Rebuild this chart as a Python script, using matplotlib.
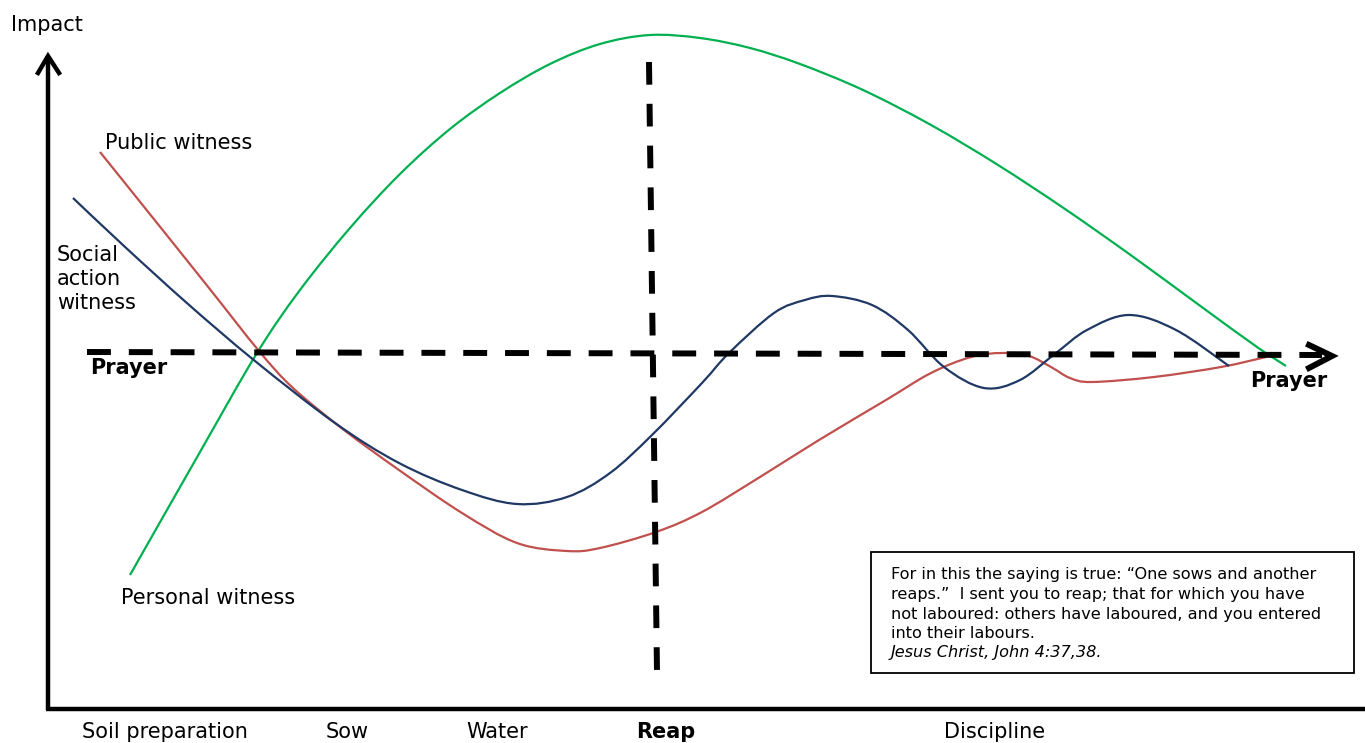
import matplotlib.pyplot as plt
from matplotlib.patches import Rectangle, PathPatch
from matplotlib.path import Path

plt.rcParams['font.family'] = ['DejaVu Sans']

personal_x = [130, 200, 257, 300, 350, 400, 450, 500, 550, 600, 650, 700, 750, 800,
              863, 931, 998, 1065, 1132, 1199, 1257, 1286]
personal_y = [575, 452, 353, 290, 228, 174, 129, 93, 64, 44, 35, 38, 48, 64,
              90, 125, 165, 209, 256, 305, 347, 366]

social_x = [73, 124, 188, 255, 335, 399, 462, 517, 567, 610, 652, 702, 729, 774, 805, 832,
            872, 908, 944, 984, 1020, 1056, 1087, 1129, 1176, 1229]
social_y = [198, 246, 304, 361, 423, 463, 490, 504, 497, 473, 435, 383, 353, 313, 300, 296,
            305, 330, 367, 388, 380, 353, 330, 315, 330, 366]

public_x = [100, 145, 209, 259, 293, 344, 399, 462, 517, 567, 600, 656, 702, 760, 819, 886,
            931, 971, 1002, 1029, 1051, 1070, 1092, 1154, 1221, 1266]
public_y = [152, 208, 288, 351, 388, 430, 470, 513, 543, 551, 548, 532, 512, 477, 440, 400,
            373, 357, 353, 356, 367, 378, 382, 377, 367, 357]

stages = ['Soil preparation', 'Sow', 'Water', 'Reap', 'Discipline']
stage_pos = [165, 347, 497, 666, 995]

quote = ['For in this the saying is true: \u201cOne sows and another',
         'reaps.\u201d  I sent you to reap; that for which you have',
         'not laboured: others have laboured, and you entered',
         'into their labours.']
source = 'Jesus Christ, John 4:37,38.'


def smooth_path(xs, ys):
    # Catmull-Rom through the read points, drawn as cubic Bezier segments
    pts = list(zip(xs, ys))
    verts = [pts[0]]
    codes = [Path.MOVETO]
    n = len(pts)
    for i in range(n - 1):
        p0 = pts[max(i - 1, 0)]
        p1 = pts[i]
        p2 = pts[i + 1]
        p3 = pts[min(i + 2, n - 1)]
        c1 = (p1[0] + (p2[0] - p0[0]) / 6, p1[1] + (p2[1] - p0[1]) / 6)
        c2 = (p2[0] - (p3[0] - p1[0]) / 6, p2[1] - (p3[1] - p1[1]) / 6)
        verts += [c1, c2, p2]
        codes += [Path.CURVE4] * 3
    return Path(verts, codes)


fig = plt.figure(figsize=(13.65, 7.43), dpi=100)
ax = fig.add_axes([0, 0, 1, 1])
ax.set_xlim(0, 1365)
ax.set_ylim(743, 0)
ax.axis('off')

# axes with open arrow heads
ax.plot([48, 48], [710, 56], color='black', lw=3.2, solid_capstyle='butt')
ax.plot([38, 48, 59], [73, 56, 73], color='black', lw=3.2, solid_joinstyle='miter')
ax.plot([46, 1365], [709, 709], color='black', lw=3.2, solid_capstyle='butt')

# prayer line and reap line
ax.plot([87, 1322], [352, 355], color='black', lw=4.3, dashes=(4.0, 3.0),
        dash_capstyle='butt')
ax.plot([1309, 1332, 1309], [345, 356, 368], color='black', lw=4.3,
        solid_joinstyle='miter')
ax.plot([649, 657], [62, 672], color='black', lw=4.3, dashes=(3.8, 3.2),
        dash_capstyle='butt')

# witness curves
for xs, ys, col in [(personal_x, personal_y, '#00B050'),
                    (public_x, public_y, '#C0504D'),
                    (social_x, social_y, '#1F3864')]:
    ax.add_patch(PathPatch(smooth_path(xs, ys), facecolor='none', edgecolor=col,
                           lw=1.6, capstyle='butt'))

fs = 15
ax.text(47, 25, 'Impact', fontsize=fs, ha='center', va='center')
ax.text(105, 143, 'Public witness', fontsize=fs, ha='left', va='center')
ax.text(57, 279, 'Social\naction\nwitness', fontsize=fs, ha='left', va='center',
        linespacing=1.22)
ax.text(121, 598, 'Personal witness', fontsize=fs, ha='left', va='center')
ax.text(90, 368, 'Prayer', fontsize=fs, fontweight='bold', ha='left', va='center')
ax.text(1289, 381, 'Prayer', fontsize=fs, fontweight='bold', ha='center', va='center')

for s, x in zip(stages, stage_pos):
    ax.text(x, 732, s, fontsize=fs, ha='center', va='center',
            fontweight='bold' if s == 'Reap' else 'normal')

# quotation box
ax.add_patch(Rectangle((871, 552), 483, 121, fill=False, edgecolor='black', lw=1.3))
for i, line in enumerate(quote):
    ax.text(891, 575 + i * 19.5, line, fontsize=11.6, ha='left', va='center')
ax.text(891, 575 + 4 * 19.5, source, fontsize=11.6, style='italic', ha='left', va='center')

fig.savefig('out.png', dpi=100)
